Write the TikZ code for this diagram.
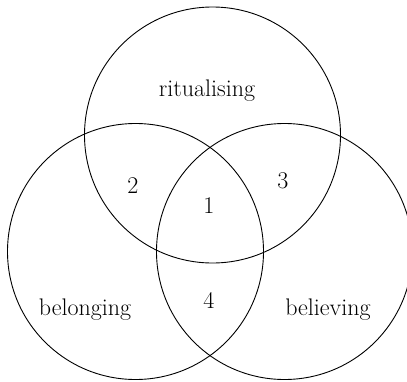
\documentclass[tikz,border=0pt]{standalone}
\begin{document}
\begin{tikzpicture}[x=1pt,y=-1pt,
    set/.style={draw, circle, minimum size=256pt, inner sep=0pt, line width=0.9pt},
    lbl/.style={font=\fontsize{24}{28}\selectfont}]
    \useasboundingbox (0,0) rectangle (407,381);
    % The three sets
    \node[set] (ritc) at (212.5,135) {};
    \node[set] (belc) at (135.5,251.5) {};
    \node[set] (bevc) at (284.5,251.5) {};
    % Set names
    \node[lbl] (rit) at (207,91) {ritualising};
    \node[lbl] (bel) at (85,310) {belonging};
    \node[lbl] (bev) at (328,310) {believing};
    % Overlaps
    \node[lbl] (one) at (209,206) {1};
    \node[lbl] (two) at (133,186) {2};
    \node[lbl] (three) at (283,181) {3};
    \node[lbl] (four) at (209,300) {4};
\end{tikzpicture}
\end{document}
